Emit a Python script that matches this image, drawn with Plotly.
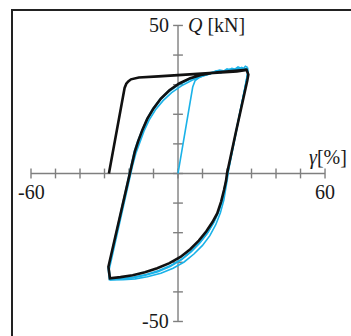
import plotly.graph_objects as go

# Model hysteresis loop (shear force Q vs shear strain gamma)
model_x = [-28.2, -25.0, -21.8, -21.1, -20.3, -19.2, -17.6, -16.0, -8.0, 0.0, 8.0, 16.0, 24.0, 28.0,
           28.7, 28.3, 26.9, 23.5, 20.0, 19.6, 18.8, 17.6, 16.0, 14.0, 11.5, 8.5, 5.0, 1.0, -3.5, -8.5,
           -13.5, -18.5, -23.5, -27.8, -28.4, -24.0, -19.8, -18.8, -17.6, -16.2, -14.5, -12.5, -10.0,
           -7.0, -3.5, 0.5, 5.0, 10.0, 16.0, 22.0, 28.0]
model_y = [0.0, 14.0, 28.9, 30.3, 31.1, 31.8, 32.2, 32.4, 32.8, 33.2, 33.6, 34.0, 34.5, 35.0,
           33.4, 31.5, 26.5, 13.5, 0.0, -2.5, -5.5, -9.5, -13.5, -16.5, -19.6, -22.7, -25.6, -28.2,
           -30.3, -32.0, -33.4, -34.4, -35.0, -35.4, -31.5, -15.5, 0.0, 3.5, 7.5, 11.0, 14.8, 18.5,
           22.0, 25.3, 28.1, 30.4, 32.2, 33.4, 34.2, 34.6, 35.0]

# Test records: initial loading and three repeated cycles
test0_x = [0.0, 2.1, 4.1, 6.0, 7.0, 9.0, 12.0, 15.0, 18.0, 21.0, 24.0, 28.0]
test0_y = [0.0, 10.2, 20.3, 29.2, 31.4, 32.6, 33.5, 34.2, 34.5, 34.9, 35.2, 35.3]

test1_x = [28.2, 28.5, 27.4, 24.0, 20.4, 20.0, 19.3, 18.3, 16.8, 14.8, 12.3, 9.3, 5.8, 1.8, -2.8,
           -7.8, -13.0, -18.0, -23.0, -27.8, -28.3, -24.0, -19.9, -18.9, -17.7, -16.3, -14.6, -12.6,
           -10.1, -7.1, -3.6, 0.4, 4.9, 9.9, 13.5, 16.0, 18.5, 21.0, 23.0, 25.0, 26.5, 28.2]
test1_y = [35.4, 34.0, 29.0, 15.5, 1.0, -1.5, -4.5, -8.5, -12.5, -16.3, -19.8, -23.0, -26.0, -28.8,
           -31.0, -32.8, -34.1, -35.0, -35.5, -35.8, -32.0, -16.0, -0.5, 3.0, 7.0, 10.5, 14.3, 18.0,
           21.6, 24.9, 27.7, 30.0, 31.8, 33.1, 33.8, 34.6, 34.2, 35.1, 34.7, 35.6, 35.0, 35.4]

test2_x = [28.4, 28.6, 27.5, 24.2, 20.6, 20.2, 19.6, 18.7, 17.3, 15.4, 13.0, 10.0, 6.5, 2.5, -2.0,
           -7.0, -12.5, -17.5, -22.5, -27.5, -28.1, -23.8, -19.6, -18.5, -17.2, -15.7, -13.9, -11.8,
           -9.2, -6.1, -2.6, 1.4, 5.9, 10.5, 13.0, 15.5, 17.5, 20.0, 22.5, 24.5, 26.5, 27.5, 28.4]
test2_y = [35.8, 34.2, 29.5, 16.0, 1.5, -1.5, -4.8, -9.0, -13.3, -17.3, -21.0, -24.3, -27.2, -29.9,
           -32.0, -33.7, -34.9, -35.6, -35.9, -36.0, -32.5, -16.5, -0.8, 2.8, 6.8, 10.5, 14.3, 18.0,
           21.5, 24.6, 27.3, 29.6, 31.6, 33.0, 33.6, 34.6, 34.0, 35.3, 34.8, 36.0, 35.2, 36.2, 35.8]

test3_x = [28.0, 28.4, 27.2, 23.8, 20.2, 19.8, 19.0, 17.9, 16.4, 14.4, 11.8, 8.8, 5.3, 1.3, -3.2,
           -8.2, -13.3, -18.3, -23.3, -28.0, -28.5, -24.2, -20.1, -19.1, -17.9, -16.5, -14.8, -12.8,
           -10.4, -7.4, -3.9, 0.1, 4.6, 9.5, 12.0, 14.5, 17.0, 19.5, 22.0, 24.0, 26.0, 28.0]
test3_y = [35.0, 33.8, 28.6, 15.0, 0.5, -2.0, -5.2, -9.0, -13.0, -16.8, -20.4, -23.6, -26.5, -29.2,
           -31.4, -33.2, -34.4, -35.2, -35.6, -35.9, -32.2, -16.2, -0.3, 3.3, 7.3, 10.9, 14.6, 18.3,
           21.8, 25.1, 27.9, 30.2, 32.0, 33.2, 33.9, 34.3, 34.9, 34.5, 35.5, 35.0, 35.8, 35.0]

x_ticks = [-60, -50, -40, -30, -20, -10, 0, 10, 20, 30, 40, 50, 60]
y_ticks = [-50, -40, -30, -20, -10, 0, 10, 20, 30, 40, 50]
x_tick_labels = {-60: "-60", 60: "60"}
y_tick_labels = {50: "50", -50: "-50"}

AXIS = "#7f7f7f"
CYAN = "#1ab2e8"
TEXT = "#1a1a1a"
FONT = dict(family="Liberation Serif, Times New Roman, serif", size=20, color=TEXT)

fig = go.Figure()

# Axes through the origin
fig.add_trace(go.Scatter(x=[x_ticks[0], x_ticks[-1]], y=[0, 0], mode="lines",
                         line=dict(color=AXIS, width=1.4), hoverinfo="skip"))
fig.add_trace(go.Scatter(x=[0, 0], y=[y_ticks[0], y_ticks[-1]], mode="lines",
                         line=dict(color=AXIS, width=1.4), hoverinfo="skip"))
fig.add_trace(go.Scatter(x=x_ticks, y=[0] * len(x_ticks), mode="markers",
                         marker=dict(symbol="line-ns", size=7, line=dict(color=AXIS, width=1.4)),
                         hoverinfo="skip"))
fig.add_trace(go.Scatter(x=[0] * len(y_ticks), y=y_ticks, mode="markers",
                         marker=dict(symbol="line-ew", size=7, line=dict(color=AXIS, width=1.4)),
                         hoverinfo="skip"))

# Measured curves
for tx, ty in [(test0_x, test0_y), (test1_x, test1_y), (test2_x, test2_y), (test3_x, test3_y)]:
    fig.add_trace(go.Scatter(x=tx, y=ty, mode="lines",
                             line=dict(color=CYAN, width=1.6), hoverinfo="skip"))

# Model curve
fig.add_trace(go.Scatter(x=model_x, y=model_y, mode="lines",
                         line=dict(color="#111111", width=2.6), hoverinfo="skip"))

annotations = []
for v, t in x_tick_labels.items():
    annotations.append(dict(x=v, y=0, text=t, showarrow=False, xanchor="center",
                            yanchor="middle", yshift=-19, font=FONT))
for v, t in y_tick_labels.items():
    annotations.append(dict(x=0, y=v, text=t, showarrow=False, xanchor="right",
                            yanchor="middle", xshift=-7, font=FONT))
annotations.append(dict(x=0, y=50, text="<i>Q</i> [kN]", showarrow=False, xanchor="left",
                        yanchor="middle", xshift=8, font=FONT))
annotations.append(dict(x=60, y=0, text="<i>γ</i>[%]", showarrow=False, xanchor="center",
                        yanchor="middle", xshift=3, yshift=16, font=FONT))

fig.update_layout(
    width=351, height=336,
    margin=dict(l=0, r=0, t=0, b=0),
    paper_bgcolor="white", plot_bgcolor="white",
    showlegend=False,
    xaxis=dict(range=[-72.65, 70.6], visible=False),
    yaxis=dict(range=[-54.9, 58.6], visible=False),
    annotations=annotations,
    shapes=[dict(type="rect", xref="paper", yref="paper",
                 x0=12 / 351, x1=1.05, y0=-0.05, y1=1 - 10 / 336,
                 line=dict(color="#222222", width=2))],
)

fig.write_html("out.html")
